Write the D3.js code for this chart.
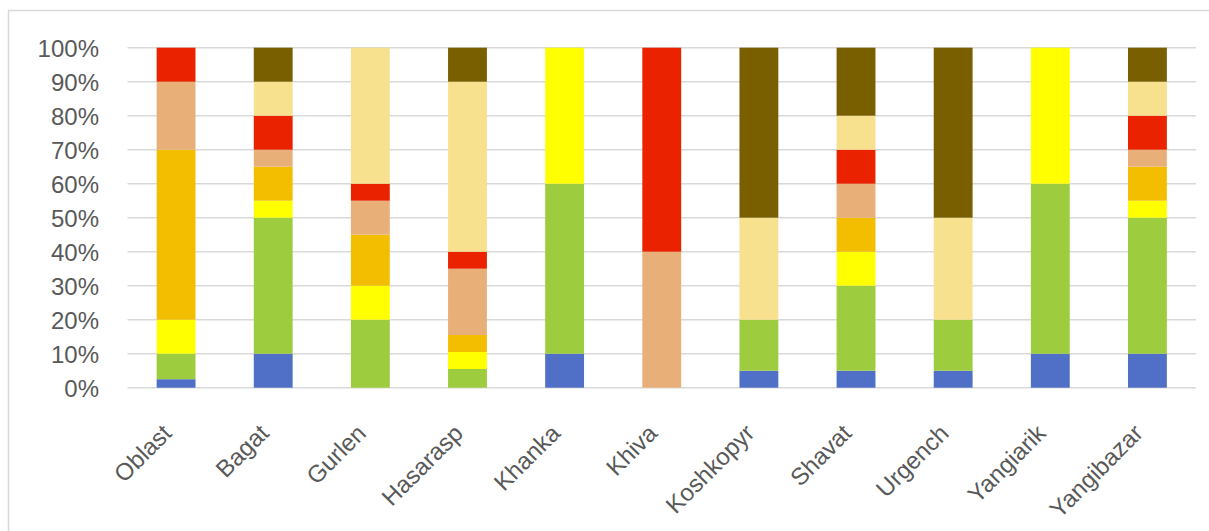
<!DOCTYPE html>
<html>
<head>
<meta charset="utf-8">
<script src="https://cdn.jsdelivr.net/npm/d3@7"></script>
<style>
  html, body { margin: 0; padding: 0; background: #ffffff; }
  svg { display: block; }
  text { font-family: "Liberation Sans", Arial, sans-serif; fill: #595959; }
</style>
</head>
<body>
<svg id="chart" width="1209" height="531"></svg>
<script>
// ---- data (percent shares, bottom to top) ----
const categories = ["Oblast","Bagat","Gurlen","Hasarasp","Khanka","Khiva","Koshkopyr","Shavat","Urgench","Yangiarik","Yangibazar"];
const seriesNames = ["s1","s2","s3","s4","s5","s6","s7","s8"];
const s1 = [2.5, 10, 0, 0, 10, 0, 5, 5, 5, 10, 10];
const s2 = [7.5, 40, 20, 5.5, 50, 0, 15, 25, 15, 50, 40];
const s3 = [10, 5, 10, 5, 40, 0, 0, 10, 0, 40, 5];
const s4 = [50, 10, 15, 5, 0, 0, 0, 10, 0, 0, 10];
const s5 = [20, 5, 10, 19.5, 0, 40, 0, 10, 0, 0, 5];
const s6 = [10, 10, 5, 5, 0, 60, 0, 10, 0, 0, 10];
const s7 = [0, 10, 40, 50, 0, 0, 30, 10, 30, 0, 10];
const s8 = [0, 10, 0, 10, 0, 0, 50, 20, 50, 0, 10];
const yTicks = [0, 10, 20, 30, 40, 50, 60, 70, 80, 90, 100];
const colors = ["#5070C8", "#9DCC3E", "#FFFF00", "#F3BE00", "#E8AF79", "#EA2200", "#F8E18E", "#7A5F00"];

const seriesValues = [s1, s2, s3, s4, s5, s6, s7, s8];
const rows = categories.map((c, i) => {
  const r = { cat: c };
  seriesNames.forEach((n, k) => { r[n] = seriesValues[k][i]; });
  return r;
});

const svg = d3.select("#chart");
const W = 1209, H = 531;

// chart-area border (top & left visible)
svg.append("rect").attr("x", 8.5).attr("y", 10.5).attr("width", W + 10).attr("height", H + 10)
  .attr("fill", "#ffffff").attr("stroke", "#d9d9d9").attr("stroke-width", 1.5);

const x = d3.scaleBand().domain(categories).range([127.5, 1196]).paddingInner(0.6).paddingOuter(0.3);
const y = d3.scaleLinear().domain([0, 100]).range([387.7, 47.7]);

// gridlines
svg.append("g").selectAll("line").data(yTicks).join("line")
  .attr("x1", 127.5).attr("x2", 1196)
  .attr("y1", d => y(d)).attr("y2", d => y(d))
  .attr("stroke", "#d9d9d9").attr("stroke-width", 1.5);

// stacked bars
const stack = d3.stack().keys(seriesNames);
const layers = stack(rows);
svg.append("g").selectAll("g").data(layers).join("g")
  .attr("fill", (d, i) => colors[i])
  .selectAll("rect").data(d => d.filter(p => p[1] - p[0] > 0)).join("rect")
  .attr("x", d => x(d.data.cat))
  .attr("width", x.bandwidth())
  .attr("y", d => y(d[1]))
  .attr("height", d => y(d[0]) - y(d[1]));

// y axis
const yAxis = d3.axisLeft(y).tickValues(yTicks).tickFormat(d => d + "%").tickSize(0).tickPadding(0);
const gy = svg.append("g").attr("transform", "translate(99,0)").call(yAxis);
gy.select(".domain").remove();
gy.selectAll("text").attr("font-size", 24).attr("dy", "0.36em").style("fill", "#595959")
  .attr("font-family", "Liberation Sans, Arial, sans-serif");

// x axis
const xAxis = d3.axisBottom(x).tickSize(0).tickPadding(0);
const gx = svg.append("g").attr("transform", "translate(0,387.7)").call(xAxis);
gx.select(".domain").remove();
gx.selectAll("text")
  .attr("font-size", 24)
  .attr("font-family", "Liberation Sans, Arial, sans-serif")
  .style("fill", "#595959")
  .attr("text-anchor", "end")
  .attr("y", 0).attr("dy", 0)
  .attr("transform", "translate(-3,47) rotate(-45)");
</script>
</body>
</html>
